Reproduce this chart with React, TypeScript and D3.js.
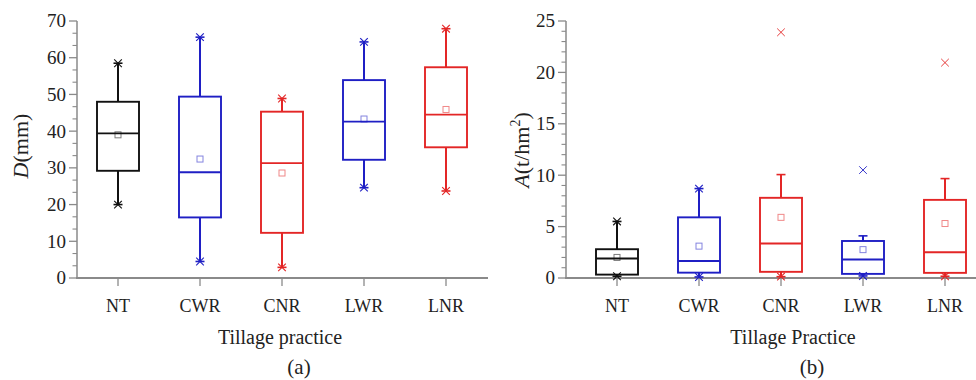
import React from "react";
import * as d3 from "d3";

const categories = ["NT", "CWR", "CNR", "LWR", "LNR"];
const seriesColors = ["#111111", "#1f1fc4", "#e32626"];
const boxColorIndex = [0, 1, 2, 1, 2];

// Panel (a): D (mm)
const dMin = [20, 4.5, 2.9, 24.6, 23.7];
const dQ1 = [29.2, 16.5, 12.3, 32.2, 35.6];
const dMed = [39.4, 28.8, 31.3, 42.6, 44.5];
const dQ3 = [48, 49.4, 45.3, 53.9, 57.4];
const dMax = [58.5, 65.6, 48.9, 64.3, 67.9];
const dMean = [39, 32.4, 28.6, 43.3, 45.9];
const dTicks = [0, 10, 20, 30, 40, 50, 60, 70];

// Panel (b): A (t/hm2)
const aMin = [0.17, 0.1, 0.13, 0.2, 0.17];
const aQ1 = [0.33, 0.52, 0.6, 0.4, 0.5];
const aMed = [1.9, 1.65, 3.35, 1.8, 2.5];
const aQ3 = [2.8, 5.9, 7.8, 3.6, 7.6];
const aWhiskHi = [5.5, 8.7, 10.06, 4.1, 9.67];
const aMean = [2.0, 3.1, 5.9, 2.76, 5.3];
const aOutlier: (number | null)[] = [null, null, 23.9, 10.5, 20.95];
const aTicks = [0, 5, 10, 15, 20, 25];

const FONT = "'Liberation Serif', 'Times New Roman', serif";
const AXIS = "#8a8a8a";

type PanelProps = {
  xRange: [number, number];
  axisX: [number, number];
  yMax: number;
  ticks: number[];
  minorStep: number;
  lo: number[];
  q1: number[];
  med: number[];
  q3: number[];
  hi: number[];
  mean: number[];
  outlier?: (number | null)[];
  xTitle: string;
  xTitleX: number;
  tag: string;
  tagX: number;
  yTitle: React.ReactNode;
  yTitleX: number;
  yTitleY: number;
};

const Cross = ({ x, y, s, color, w = 1.1 }: any) => (
  <g stroke={color} strokeWidth={w}>
    <line x1={x - s} y1={y - s} x2={x + s} y2={y + s} />
    <line x1={x - s} y1={y + s} x2={x + s} y2={y - s} />
  </g>
);

function Panel(p: PanelProps) {
  const x = d3.scalePoint<string>().domain(categories).range(p.xRange);
  const y = d3.scaleLinear().domain([0, p.yMax]).range([278, 21]);
  const y0 = y(0);
  const axisLeft = p.axisX[0];
  const minors = d3
    .range(0, p.yMax + 1e-6, p.minorStep)
    .filter((v) => !p.ticks.some((t) => Math.abs(t - v) < 1e-6));
  const bw = 42;
  const cap = 4.5;
  return (
    <g fontFamily={FONT}>
      {/* axes */}
      <line x1={axisLeft} y1={y(p.yMax)} x2={axisLeft} y2={y0} stroke={AXIS} strokeWidth={1.5} />
      <line x1={axisLeft - 1} y1={y0} x2={p.axisX[1]} y2={y0} stroke={AXIS} strokeWidth={1.8} />
      {p.ticks.map((t) => (
        <g key={"t" + t}>
          <line x1={axisLeft - 8} x2={axisLeft} y1={y(t)} y2={y(t)} stroke={AXIS} strokeWidth={1.3} />
          <text x={axisLeft - 11} y={y(t)} dy="0.34em" textAnchor="end" fontSize={19} fill="#222">
            {t}
          </text>
        </g>
      ))}
      {minors.map((t, i) => (
        <line key={"m" + i} x1={axisLeft - 4.5} x2={axisLeft} y1={y(t)} y2={y(t)} stroke={AXIS} strokeWidth={1.1} />
      ))}
      {categories.map((c) => (
        <g key={"c" + c}>
          <line x1={x(c)!} x2={x(c)!} y1={y0} y2={y0 + 8} stroke={AXIS} strokeWidth={1.3} />
          <text x={x(c)!} y={312} textAnchor="middle" fontSize={18} fill="#222">
            {c}
          </text>
        </g>
      ))}
      <text x={p.xTitleX} y={344} textAnchor="middle" fontSize={20} fill="#222">
        {p.xTitle}
      </text>
      <text x={p.tagX} y={374} textAnchor="middle" fontSize={21} fill="#222">
        {p.tag}
      </text>
      <text
        transform={`translate(${p.yTitleX},${p.yTitleY}) rotate(-90)`}
        textAnchor="middle"
        fontSize={22}
        fill="#222"
      >
        {p.yTitle}
      </text>
      {/* boxes */}
      {categories.map((c, i) => {
        const col = seriesColors[boxColorIndex[i]];
        const cx = x(c)!;
        const out = p.outlier ? p.outlier[i] : null;
        const maxV = out != null ? out : p.hi[i];
        return (
          <g key={"b" + c}>
            <line x1={cx} x2={cx} y1={y(p.hi[i])} y2={y(p.q3[i])} stroke={col} strokeWidth={2} />
            <line x1={cx} x2={cx} y1={y(p.q1[i])} y2={y(p.lo[i])} stroke={col} strokeWidth={2} />
            <line x1={cx - cap} x2={cx + cap} y1={y(p.hi[i])} y2={y(p.hi[i])} stroke={col} strokeWidth={1.6} />
            <line x1={cx - cap} x2={cx + cap} y1={y(p.lo[i])} y2={y(p.lo[i])} stroke={col} strokeWidth={1.6} />
            <rect
              x={cx - bw / 2}
              y={y(p.q3[i])}
              width={bw}
              height={y(p.q1[i]) - y(p.q3[i])}
              fill="none"
              stroke={col}
              strokeWidth={1.9}
            />
            <line x1={cx - bw / 2} x2={cx + bw / 2} y1={y(p.med[i])} y2={y(p.med[i])} stroke={col} strokeWidth={1.9} />
            <rect
              x={cx - 3}
              y={y(p.mean[i]) - 3}
              width={6}
              height={6}
              fill="none"
              stroke={col}
              strokeOpacity={0.55}
              strokeWidth={1}
            />
            <Cross x={cx} y={y(maxV)} s={3.8} color={col} w={out != null ? 0.9 : 1.1} />
            <Cross x={cx} y={y(p.lo[i])} s={3.8} color={col} />
          </g>
        );
      })}
    </g>
  );
}

export default function App() {
  return (
    <svg
      width={976}
      height={380}
      style={{ position: "absolute", left: 0, top: 0, background: "#fff" }}
    >
      <rect width={976} height={380} fill="#fff" />
      <Panel
        xRange={[118, 446]}
        axisX={[77, 488]}
        yMax={70}
        ticks={dTicks}
        minorStep={10 / 3}
        lo={dMin}
        q1={dQ1}
        med={dMed}
        q3={dQ3}
        hi={dMax}
        mean={dMean}
        xTitle="Tillage practice"
        xTitleX={280}
        tag="(a)"
        tagX={299}
        yTitle={
          <>
            <tspan fontStyle="italic">D</tspan>
            <tspan>(mm)</tspan>
          </>
        }
        yTitleX={28}
        yTitleY={146}
      />
      <Panel
        xRange={[617, 945]}
        axisX={[566, 976]}
        yMax={25}
        ticks={aTicks}
        minorStep={1}
        lo={aMin}
        q1={aQ1}
        med={aMed}
        q3={aQ3}
        hi={aWhiskHi}
        mean={aMean}
        outlier={aOutlier}
        xTitle="Tillage Practice"
        xTitleX={793}
        tag="(b)"
        tagX={812}
        yTitle={
          <>
            <tspan fontStyle="italic">A</tspan>
            <tspan>(t/hm</tspan>
            <tspan fontSize={14} dy={-9}>2</tspan>
            <tspan dy={9}>)</tspan>
          </>
        }
        yTitleX={529}
        yTitleY={150}
      />
    </svg>
  );
}
